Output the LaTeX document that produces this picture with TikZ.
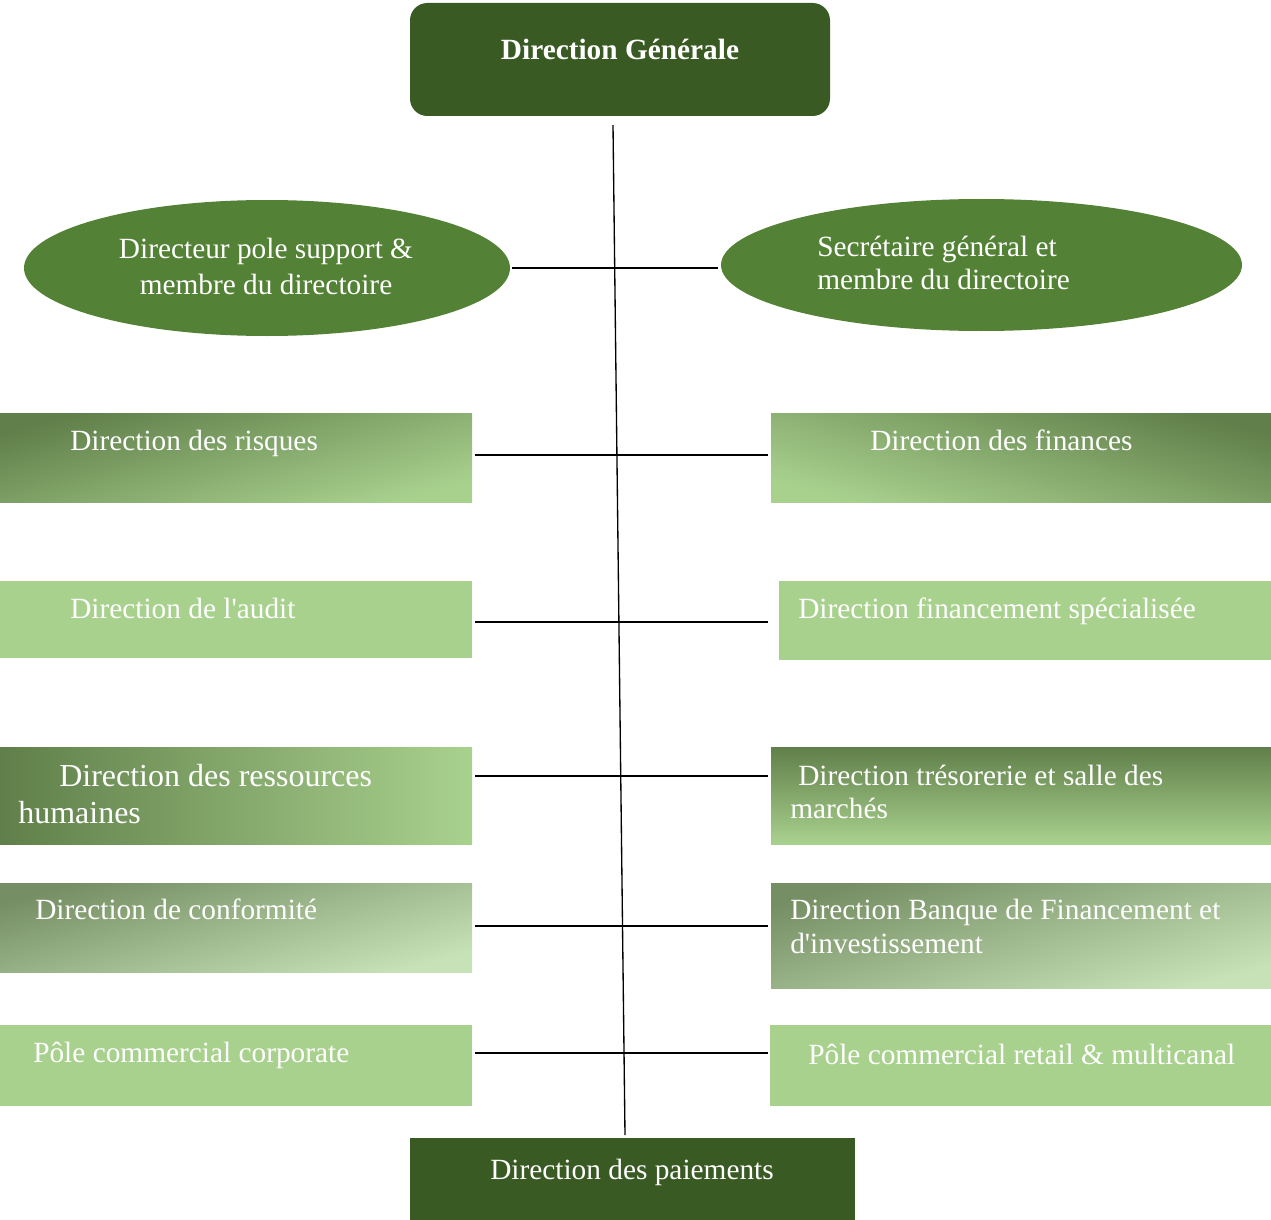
\documentclass[tikz,border=0pt]{standalone}
\usepackage{fontspec}
\setmainfont{Liberation Serif}
\usetikzlibrary{shapes.geometric}
\definecolor{dkg}{RGB}{58,90,36}
\definecolor{elg}{RGB}{83,129,53}
\definecolor{ltg}{RGB}{169,209,142}
\definecolor{grd}{RGB}{96,127,74}
\definecolor{gry}{RGB}{117,142,99}
\definecolor{pale}{RGB}{200,226,184}
\begin{document}
\begin{tikzpicture}[x=0.75pt,y=-0.75pt,
  box/.style={rectangle, inner sep=0pt, outer sep=0pt, anchor=north west, draw=none},
  ell/.style={ellipse, inner sep=0pt, outer sep=0pt, fill=elg, draw=none},
  lbl/.style={text=white, inner sep=0pt, font=\fontsize{22}{26}\selectfont},
  lblbig/.style={text=white, inner sep=0pt, font=\fontsize{24}{28}\selectfont},
  link/.style={draw=black, line width=1pt}]
\useasboundingbox (0,0) rectangle (1271,1220);

% top and bottom boxes
\node[box, fill=dkg, rounded corners=13pt, minimum width=315pt, minimum height=84.75pt] (DG) at (410,3) {};
\node[box, fill=dkg, minimum width=333.75pt, minimum height=61.5pt] (DP) at (410,1138) {};

% ellipses
\node[ell, minimum width=364.5pt, minimum height=102pt] (EL) at (267,268) {};
\node[ell, minimum width=390.75pt, minimum height=99pt] (ER) at (981.5,265) {};

% left boxes
\node[box, top color=grd, bottom color=ltg, shading angle=15, minimum width=354pt, minimum height=66.75pt] (L1) at (0,413) {};
\node[box, fill=ltg, minimum width=354pt, minimum height=57.75pt] (L2) at (0,581) {};
\node[box, left color=grd, right color=ltg, minimum width=354pt, minimum height=72.75pt] (L3) at (0,747) {};
\node[box, top color=gry, bottom color=pale, shading angle=15, minimum width=354pt, minimum height=66.75pt] (L4) at (0,883) {};
\node[box, fill=ltg, minimum width=354pt, minimum height=60.75pt] (L5) at (0,1025) {};

% right boxes
\node[box, top color=grd, bottom color=ltg, shading angle=-15, minimum width=375pt, minimum height=66.75pt] (R1) at (771,413) {};
\node[box, fill=ltg, minimum width=369pt, minimum height=59.25pt] (R2) at (779,581) {};
\node[box, top color=grd, bottom color=ltg, minimum width=375pt, minimum height=72.75pt] (R3) at (771,747) {};
\node[box, top color=gry, bottom color=pale, shading angle=15, minimum width=375pt, minimum height=78.75pt] (R4) at (771,883) {};
\node[box, fill=ltg, minimum width=375.75pt, minimum height=60.75pt] (R5) at (770,1025) {};

% connectors
\coordinate (v1) at (613,125);
\coordinate (v2) at (625,1135);
\draw[link] (v1) -- (v2);
\coordinate (e1) at (512,268);
\coordinate (e2) at (718,268);
\draw[link] (e1) -- (e2);
\coordinate (h1a) at (475,455);  \coordinate (h1b) at (768,455);
\coordinate (h2a) at (475,622);  \coordinate (h2b) at (768,622);
\coordinate (h3a) at (475,776);  \coordinate (h3b) at (768,776);
\coordinate (h4a) at (475,926);  \coordinate (h4b) at (768,926);
\coordinate (h5a) at (475,1053); \coordinate (h5b) at (768,1053);
\draw[link] (h1a) -- (h1b);
\draw[link] (h2a) -- (h2b);
\draw[link] (h3a) -- (h3b);
\draw[link] (h4a) -- (h4b);
\draw[link] (h5a) -- (h5b);

% labels
\node[lbl, anchor=base, font=\fontsize{22}{26}\selectfont\bfseries] (tDG) at (620,60) {Direction Générale};
\node[lbl, anchor=base] (tDP) at (632,1179) {Direction des paiements};

\node[lbl, anchor=base] (tELa) at (266,258) {Directeur pole support \&};
\node[lbl, anchor=base] (tELb) at (266,294) {membre du directoire};
\node[lbl, anchor=base west] (tERa) at (817,256) {Secrétaire général et};
\node[lbl, anchor=base west] (tERb) at (817,289) {membre du directoire};

\node[lbl, anchor=base west] (tL1) at (70,450) {Direction des risques};
\node[lbl, anchor=base west] (tR1) at (870,450) {Direction des finances};
\node[lbl, anchor=base west] (tL2) at (70,618) {Direction de l\textquotesingle audit};
\node[lbl, anchor=base west] (tR2) at (798,618) {Direction financement spécialisée};
\node[lblbig, anchor=base west] (tL3a) at (59,786) {Direction des ressources};
\node[lblbig, anchor=base west] (tL3b) at (18,823) {humaines};
\node[lbl, anchor=base west] (tR3a) at (798,785) {Direction trésorerie et salle des};
\node[lbl, anchor=base west] (tR3b) at (790,818) {marchés};
\node[lbl, anchor=base west] (tL4) at (35,919) {Direction de conformité};
\node[lbl, anchor=base west] (tR4a) at (790,919) {Direction Banque de Financement et};
\node[lbl, anchor=base west] (tR4b) at (790,953) {d\textquotesingle investissement};
\node[lbl, anchor=base west] (tL5) at (33,1062) {Pôle commercial corporate};
\node[lbl, anchor=base west] (tR5) at (808,1064) {Pôle commercial retail \& multicanal};
\end{tikzpicture}
\end{document}
